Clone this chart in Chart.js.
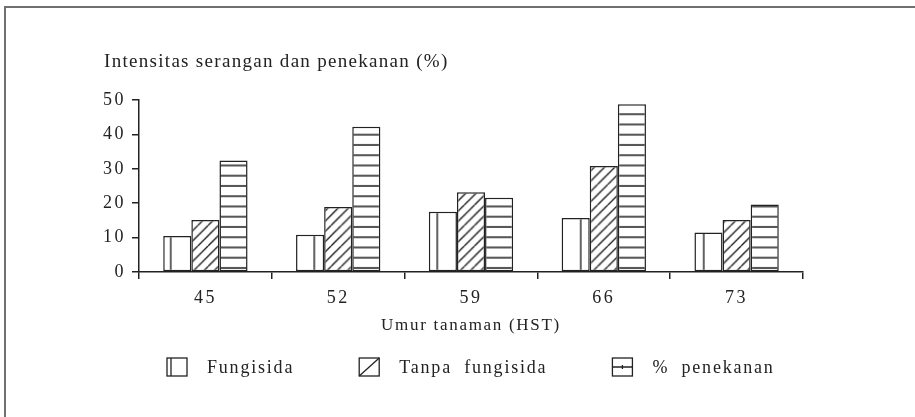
<!DOCTYPE html>
<html><head><meta charset="utf-8">
<script src="https://cdn.jsdelivr.net/npm/chart.js@4.4.1/dist/chart.umd.min.js"></script>
<style>
html,body{margin:0;padding:0;background:#fff;}
#wrap{position:relative;width:915px;height:417px;overflow:hidden;background:#fff;}
#frame{position:absolute;left:4px;top:6px;width:1000px;height:1000px;border-top:2px solid #707070;border-left:2px solid #707070;}
canvas{position:absolute;left:0;top:0;}
</style></head><body>
<div id="wrap"><canvas id="c" width="915" height="417"></canvas><div id="frame"></div></div>
<script>
const categories = ['45', '52', '59', '66', '73'];
const fungisida = [10.5, 10.8, 17.5, 15.7, 11.5];
const tanpaFungisida = [15.1, 18.9, 23.2, 30.8, 15.1];
const penekanan = [32.4, 42.2, 21.6, 48.8, 19.6];
const seriesLabels = ['Fungisida', 'Tanpa fungisida', '% penekanan'];
const yTicks = [0, 10, 20, 30, 40, 50];
const yTitle = 'Intensitas serangan dan penekanan (%)';
const xTitle = 'Umur tanaman (HST)';

const INK = '#222';
const FONT = '"Liberation Serif", "Times New Roman", serif';

const canvas = document.getElementById('c');
const ctx = canvas.getContext('2d');

function makePattern(kind) {
  const t = document.createElement('canvas');
  t.width = 20; t.height = 20;
  const g = t.getContext('2d');
  g.fillStyle = '#fff'; g.fillRect(0, 0, 20, 20);
  g.strokeStyle = INK; g.lineWidth = 1.4;
  g.beginPath();
  if (kind === 'v') {
    g.moveTo(1, 0); g.lineTo(1, 20);
  } else if (kind === 'h') {
    g.moveTo(0, 1); g.lineTo(20, 1);
    g.moveTo(0, 11); g.lineTo(20, 11);
  } else {
    for (let c = 0; c <= 40; c += 10) { g.moveTo(c, 0); g.lineTo(c - 20, 20); }
  }
  g.stroke();
  const p = ctx.createPattern(t, 'repeat');
  let tx = 0, ty = 0;
  if (kind === 'v') tx = 5.7;
  if (kind === 'h') ty = 0.4;
  if (kind === 'd') tx = 3;
  p.setTransform(new DOMMatrix().translate(tx, ty).scale(1.025));
  return p;
}
const patterns = [makePattern('v'), makePattern('d'), makePattern('h')];
const seriesData = [fungisida, tanpaFungisida, penekanan];

const textPlugin = {
  id: 'textPlugin',
  beforeDraw(chart) {
    chart.ctx.letterSpacing = '2.5px';
  },
  afterDraw(chart) {
    const c = chart.ctx;
    const area = chart.chartArea;
    c.save();
    c.fillStyle = INK;
    c.textBaseline = 'middle';
    c.textAlign = 'left';
    c.font = '19px ' + FONT;
    c.letterSpacing = '1.3px';
    c.fillText(yTitle, 104, 62);
    // x axis title
    c.font = '17px ' + FONT;
    c.letterSpacing = '1.7px';
    c.textAlign = 'center';
    c.fillText(xTitle, (area.left + area.right) / 2, 326);
    // legend
    c.textAlign = 'left';
    c.letterSpacing = '1.8px';
    c.wordSpacing = '6px';
    c.font = '18px ' + FONT;
    const yc = 367;
    let x = 167;
    const bw = 20, bh = 18;
    chart.data.datasets.forEach((ds, i) => {
      const bx = x, by = yc - bh / 2;
      c.fillStyle = '#fff';
      c.fillRect(bx, by, bw, bh);
      c.strokeStyle = INK; c.lineWidth = 1.3;
      c.beginPath();
      if (i === 0) { c.moveTo(bx + 4, by); c.lineTo(bx + 4, by + bh); }
      if (i === 1) { c.moveTo(bx, by + bh); c.lineTo(bx + bw, by); }
      if (i === 2) { c.moveTo(bx, by + bh / 2); c.lineTo(bx + bw, by + bh / 2); c.moveTo(bx + bw / 2, by + bh / 2 - 2); c.lineTo(bx + bw / 2, by + bh / 2 + 2); }
      c.stroke();
      c.strokeRect(bx, by, bw, bh);
      c.fillStyle = INK;
      const tx = bx + bw + 20;
      c.fillText(ds.label, tx, yc + 1);
      x = tx + c.measureText(ds.label).width + 65;
    });
    c.restore();
    chart.ctx.letterSpacing = '0px';
  }
};

new Chart(canvas, {
  type: 'bar',
  data: {
    labels: categories,
    datasets: seriesLabels.map((lab, i) => ({
      label: lab,
      data: seriesData[i],
      backgroundColor: patterns[i],
      borderColor: INK,
      borderWidth: 1.5,
      borderSkipped: false,
      categoryPercentage: 0.635,
      barPercentage: 1.0
    }))
  },
  options: {
    responsive: false,
    devicePixelRatio: 1,
    animation: false,
    layout: { padding: { left: 89, right: 112, top: 100, bottom: 82 } },
    plugins: { legend: { display: false }, tooltip: { enabled: false }, title: { display: false } },
    scales: {
      x: {
        grid: { display: true, drawOnChartArea: false, drawTicks: true, tickLength: 7, color: INK, lineWidth: 1.5, offset: true },
        border: { display: true, color: INK, width: 1.5 },
        ticks: { color: INK, font: { family: FONT, size: 18 }, padding: 8, maxRotation: 0 },
        title: { display: false },
        afterFit(s) { s.height = 63; }
      },
      y: {
        min: 0, max: 50,
        afterBuildTicks(s) { s.ticks = yTicks.map(v => ({ value: v })); },
        grid: { display: true, drawOnChartArea: false, drawTicks: true, tickLength: 7, color: INK, lineWidth: 1.5 },
        border: { display: true, color: INK, width: 1.5 },
        ticks: { color: INK, font: { family: FONT, size: 18 }, padding: 6 },
        afterFit(s) { s.width = 50; }
      }
    }
  },
  plugins: [textPlugin]
});
</script>
</body></html>
